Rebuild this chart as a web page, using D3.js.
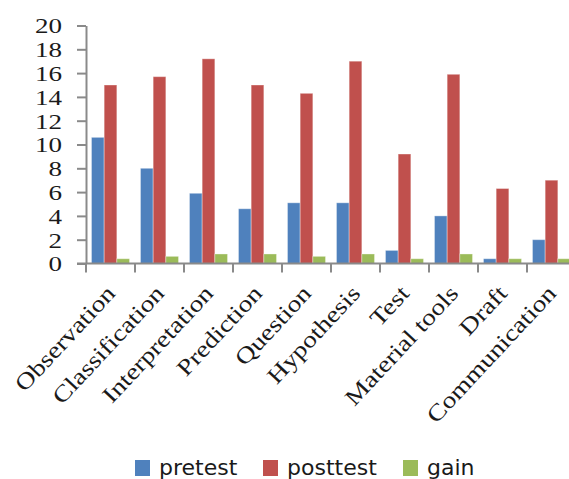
<!DOCTYPE html>
<html>
<head>
<meta charset="utf-8">
<script src="https://cdn.jsdelivr.net/npm/d3@7"></script>
<style>
  body { margin: 0; background: #fff; }
</style>
</head>
<body>
<script>
// grouped bars: pretest / posttest / gain per process skill

const categories = ['Observation', 'Classification', 'Interpretation', 'Prediction', 'Question',
  'Hypothesis', 'Test', 'Material tools', 'Draft', 'Communication'];
const seriesNames = ['pretest', 'posttest', 'gain'];
const pretest  = [10.6, 8.0, 5.9, 4.6, 5.1, 5.1, 1.1, 4.0, 0.4, 2.0];
const posttest = [15.0, 15.7, 17.2, 15.0, 14.3, 17.0, 9.2, 15.9, 6.3, 7.0];
const gain     = [0.4, 0.6, 0.8, 0.8, 0.6, 0.8, 0.4, 0.8, 0.4, 0.4];
const yTicks = [0, 2, 4, 6, 8, 10, 12, 14, 16, 18, 20];
const colors = ['#4F81BD', '#C0504D', '#9BBB59'];

const values = [pretest, posttest, gain];
const rows = categories.map((c, i) => ({cat: c, vals: values.map(v => v[i])}));

const width = 569;
const height = 479;
const stretch = 1.2; // the picture's serif text is a bit wider than normal

const x0 = 86, x1 = 86 + 49 * categories.length;
const y0 = 263.5, y1 = 25.5;

const xScale = d3.scaleBand()
  .domain(categories)
  .range([x0, x1])
  .paddingInner(0.224)
  .paddingOuter(0.112);

const xInner = d3.scaleBand()
  .domain(seriesNames)
  .range([0, xScale.bandwidth()]);

const yScale = d3.scaleLinear()
  .domain([0, 20])
  .range([y0, y1]);

const svg = d3.select('body')
  .append('svg')
  .attr('width', width)
  .attr('height', height);

// bars
svg.append('g')
  .selectAll('g')
  .data(rows)
  .join('g')
  .attr('transform', d => `translate(${xScale(d.cat)},0)`)
  .selectAll('rect')
  .data(d => d.vals.map((v, j) => ({s: seriesNames[j], v: v, j: j})))
  .join('rect')
  .attr('x', d => xInner(d.s))
  .attr('y', d => yScale(d.v))
  .attr('width', xInner.bandwidth())
  .attr('height', d => yScale(0) - yScale(d.v))
  .attr('fill', d => colors[d.j])
  .attr('stroke', 'rgba(255,255,255,0.35)')
  .attr('stroke-width', 1);

// y axis
const yAxis = svg.append('g')
  .attr('transform', `translate(${x0},0)`)
  .call(d3.axisLeft(yScale).tickValues(yTicks).tickSize(9).tickSizeOuter(0).tickPadding(0));

yAxis.select('.domain').attr('stroke', '#8a8a8a').attr('stroke-width', 2);
yAxis.selectAll('.tick line').attr('stroke', '#8a8a8a').attr('stroke-width', 2);
yAxis.selectAll('.tick text')
  .attr('x', null)
  .attr('dy', '0.34em')
  .attr('transform', `translate(-24,0) scale(1.23,1)`)
  .attr('font-family', '"Liberation Serif", serif')
  .attr('font-size', 22)
  .attr('fill', '#1a1a1a');

// x axis: ticks sit on the category boundaries
const bounds = d3.range(categories.length + 1).map(i => x0 + i * (x1 - x0) / categories.length);
svg.append('line')
  .attr('x1', x0 - 9).attr('x2', x1)
  .attr('y1', y0).attr('y2', y0)
  .attr('stroke', '#8a8a8a').attr('stroke-width', 2);
svg.append('g')
  .selectAll('line')
  .data(bounds)
  .join('line')
  .attr('x1', d => d).attr('x2', d => d)
  .attr('y1', y0).attr('y2', y0 + 9)
  .attr('stroke', '#8a8a8a').attr('stroke-width', 2);

// category labels, rotated
svg.append('g')
  .selectAll('text')
  .data(categories)
  .join('text')
  .attr('transform', d => `translate(${xScale(d) + xScale.bandwidth() / 2 + 6},${y0 + 31}) rotate(-47) scale(${stretch},1)`)
  .attr('text-anchor', 'end')
  .attr('font-family', '"Liberation Serif", serif')
  .attr('font-size', 23)
  .attr('fill', '#1a1a1a')
  .text(d => d);

// legend
const legendX = [135, 263, 403];
const legend = svg.append('g')
  .selectAll('g')
  .data(seriesNames)
  .join('g')
  .attr('transform', (d, i) => `translate(${legendX[i]},460)`);

legend.append('rect')
  .attr('width', 15)
  .attr('height', 16)
  .attr('fill', (d, i) => colors[i]);

legend.append('text')
  .attr('x', 24)
  .attr('y', 15)
  .attr('font-family', '"DejaVu Sans", sans-serif')
  .attr('font-size', 22)
  .attr('fill', '#1a1a1a')
  .text(d => d);
</script>
</body>
</html>
